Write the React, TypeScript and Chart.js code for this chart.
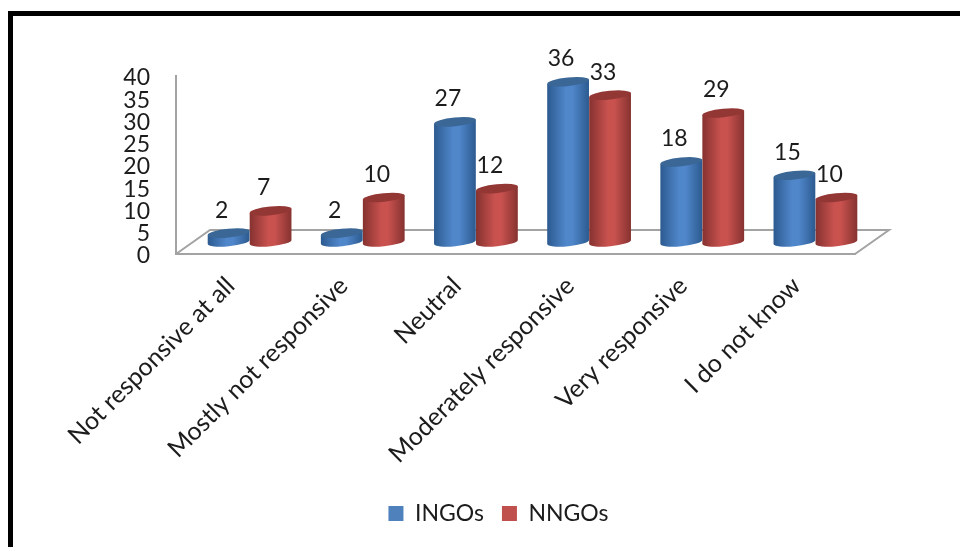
import React, { useEffect, useRef } from "react";
import { Chart, registerables } from "chart.js";

Chart.register(...registerables);

const categories = [
  "Not responsive at all",
  "Mostly not responsive",
  "Neutral",
  "Moderately responsive",
  "Very responsive",
  "I do not know",
];
const ingos = [2, 2, 27, 36, 18, 15];
const nngos = [7, 10, 12, 33, 29, 10];

const FONT = "Lato";
const TEXT = "#1c1c1c";
const AXIS = "#a3a3a3";

// Offset of the column plane from the front edge of the floor.
const DEPTH_X = 17;
const DEPTH_Y = 12;
const TILT = -0.1;
const CAP_RY = 4.3;

type Shade = { edge: string; mid: string; cap: string };
const shades: Shade[] = [
  { edge: "#2c5a8f", mid: "#5087cb", cap: "#3a6796" },
  { edge: "#853230", mid: "#c9524f", cap: "#933735" },
];

// Draws the floor outline and each bar as a tilted cylinder.
const cylinders = {
  id: "cylinders",
  afterLayout(chart: any) {
    // The legend is centred under the floor, not under the whole canvas.
    chart.legend.left += 13;
    chart.legend.right += 13;
  },
  beforeDatasetsDraw(chart: any) {
    const { ctx, chartArea: a } = chart;
    ctx.save();
    ctx.strokeStyle = AXIS;
    ctx.lineWidth = 2;
    ctx.beginPath();
    ctx.moveTo(a.left, a.bottom);
    ctx.lineTo(a.left + DEPTH_X * 2, a.bottom - DEPTH_Y * 2);
    ctx.lineTo(a.right + DEPTH_X * 2, a.bottom - DEPTH_Y * 2);
    ctx.lineTo(a.right, a.bottom);
    ctx.stroke();
    ctx.restore();
  },
  beforeDatasetDraw(chart: any, args: any) {
    const { ctx } = chart;
    const shade = shades[args.index];
    const meta = chart.getDatasetMeta(args.index);
    meta.data.forEach((bar: any) => {
      const rx = bar.width / 2;
      const cx = bar.x + DEPTH_X;
      const top = bar.y - DEPTH_Y;
      const base = bar.base - DEPTH_Y;
      const dx = rx * Math.cos(TILT);
      const dy = rx * Math.sin(TILT);
      const g = ctx.createLinearGradient(cx - rx, 0, cx + rx, 0);
      g.addColorStop(0, shade.edge);
      g.addColorStop(0.45, shade.mid);
      g.addColorStop(0.6, shade.mid);
      g.addColorStop(1, shade.edge);
      ctx.save();
      ctx.fillStyle = g;
      ctx.beginPath();
      ctx.moveTo(cx - dx, top - dy);
      ctx.ellipse(cx, base, rx, CAP_RY, TILT, Math.PI, 0, true);
      ctx.lineTo(cx + dx, top + dy);
      ctx.closePath();
      ctx.fill();
      ctx.fillStyle = shade.cap;
      ctx.beginPath();
      ctx.ellipse(cx, top, rx, CAP_RY, TILT, 0, Math.PI * 2);
      ctx.fill();
      ctx.restore();
    });
    return false;
  },
  afterDatasetsDraw(chart: any) {
    const { ctx } = chart;
    ctx.save();
    ctx.font = `23px ${FONT}`;
    ctx.fillStyle = TEXT;
    ctx.textAlign = "center";
    ctx.textBaseline = "middle";
    chart.data.datasets.forEach((ds: any, i: number) => {
      chart.getDatasetMeta(i).data.forEach((bar: any, j: number) => {
        ctx.fillText(String(ds.data[j]), bar.x + DEPTH_X - 7, bar.y - DEPTH_Y - 23);
      });
    });
    ctx.restore();
  },
};

export default function App() {
  const ref = useRef<HTMLCanvasElement>(null);
  useEffect(() => {
    const chart = new Chart(ref.current!, {
      type: "bar",
      data: {
        labels: categories,
        datasets: [
          { label: "INGOs", data: ingos, backgroundColor: "#4f81bd" },
          { label: "NNGOs", data: nngos, backgroundColor: "#c0504d" },
        ],
      },
      plugins: [cylinders],
      options: {
        animation: false,
        responsive: false,
        layout: { padding: { left: 116, right: 105, top: 76, bottom: 12 } },
        datasets: { bar: { categoryPercentage: 0.742, barPercentage: 1 } },
        plugins: {
          tooltip: { enabled: false },
          legend: {
            position: "bottom",
            labels: {
              boxWidth: 15,
              boxHeight: 15,
              padding: 18,
              color: TEXT,
              font: { family: FONT, size: 23 },
            },
          },
        },
        scales: {
          x: {
            afterFit(s: any) {
              s.height = 230;
            },
            grid: { display: false },
            border: { display: true, color: AXIS, width: 2 },
            ticks: {
              autoSkip: false,
              minRotation: 45,
              maxRotation: 45,
              padding: 9,
              labelOffset: -2,
              color: TEXT,
              font: { family: FONT, size: 25 },
            },
          },
          y: {
            min: 0,
            max: 40,
            afterFit(s: any) {
              s.width = 60;
            },
            grid: { display: false, drawTicks: false },
            border: { display: true, color: AXIS, width: 2 },
            ticks: {
              autoSkip: false,
              stepSize: 5,
              padding: 26,
              labelOffset: 2,
              color: TEXT,
              font: { family: FONT, size: 23 },
            },
          },
        },
      },
    } as any);
    return () => chart.destroy();
  }, []);

  return (
    <div style={{ position: "absolute", left: 0, top: 0, width: 960, height: 547, overflow: "hidden", background: "#fff" }}>
      <canvas ref={ref} width={960} height={547} style={{ display: "block", position: "absolute", left: 0, top: 0 }} />
      <div style={{ position: "absolute", left: 8, top: 11, right: 0, bottom: 0, borderTop: "5px solid #000", borderLeft: "5px solid #000" }} />
    </div>
  );
}
